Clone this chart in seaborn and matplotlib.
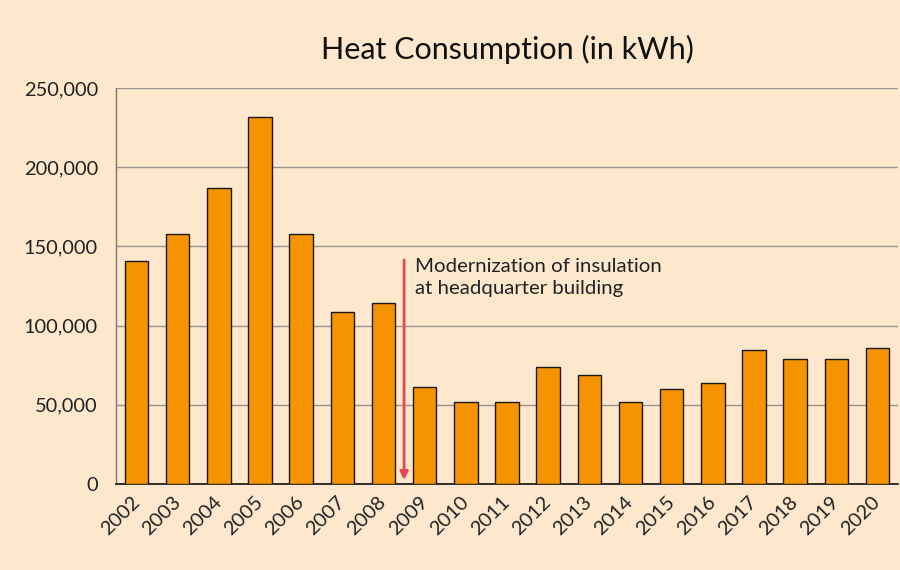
import matplotlib
matplotlib.use("Agg")
import matplotlib.pyplot as plt
import seaborn as sns
import pandas as pd
import numpy as np
from matplotlib.ticker import FuncFormatter, FixedLocator

years = ["2002", "2003", "2004", "2005", "2006", "2007", "2008", "2009", "2010", "2011",
         "2012", "2013", "2014", "2015", "2016", "2017", "2018", "2019", "2020"]
heat_kwh = [141000, 158000, 187000, 232000, 158000, 108500, 114500, 61000, 52000, 52000,
            74000, 69000, 52000, 60000, 64000, 84500, 79000, 79000, 86000]
title_text = "Heat Consumption (in kWh)"
note_text = "Modernization of insulation\nat headquarter building"
y_ticks = [0, 50000, 100000, 150000, 200000, 250000]

BG = "#fde8cd"
BAR = "#f59300"
GRID = "#9a938a"
RED = "#e8484c"

sns.set_theme(style="white")
plt.rcParams["font.family"] = ["Lato", "DejaVu Sans"]

df = pd.DataFrame({"year": years, "kwh": heat_kwh})

fig = plt.figure(figsize=(9, 5.7), dpi=100, facecolor=BG)
ax = fig.add_axes([116/900, 1-484/570, (898-116)/900, (484-88)/570])
ax.set_facecolor(BG)

sns.barplot(data=df, x="year", y="kwh", color=BAR, edgecolor="#1a1a1a",
            linewidth=1.0, width=0.57, saturation=1, ax=ax, zorder=3)

ax.set_ylim(0, 250000)
ax.set_xlim(-0.5, len(years) - 0.5)
ax.set_yticks(y_ticks)
ax.yaxis.set_major_formatter(FuncFormatter(lambda v, p: f"{int(v):,}"))
ax.grid(axis="y", color=GRID, linewidth=1.0, zorder=0)
ax.set_axisbelow(True)
ax.set_xlabel("")
ax.set_ylabel("")

for s in ["top", "right"]:
    ax.spines[s].set_visible(False)
ax.spines["left"].set_color("#7d766c")
ax.spines["left"].set_linewidth(1.0)
ax.spines["bottom"].set_color("#111111")
ax.spines["bottom"].set_linewidth(1.2)

ax.tick_params(axis="y", which="major", length=9, width=1, color="#7d766c",
               labelsize=14.4, labelcolor="#222222", pad=4)
ax.tick_params(axis="x", which="major", length=0, labelsize=14.4,
               labelcolor="#222222", pad=11)
ax.xaxis.set_minor_locator(FixedLocator(np.arange(-0.5, len(years), 1.0)))
ax.tick_params(axis="x", which="minor", length=10, width=1.3, color="#9b9185")
for lbl in ax.get_xticklabels():
    lbl.set_rotation(45)
    lbl.set_ha("right")
    lbl.set_va("center")
    lbl.set_rotation_mode("anchor")

ax.annotate("", xy=(6.5, 2500), xytext=(6.5, 141500),
            arrowprops=dict(arrowstyle="-|>", color=RED, lw=2, mutation_scale=12,
                            shrinkA=0, shrinkB=0), zorder=5)
ax.text(6.76, 142500, note_text, ha="left", va="top", fontsize=14.7,
        color="#222222", linespacing=1.35, zorder=5)

fig.text(507/900, 1-49/570, title_text, ha="center", va="center",
         fontsize=22, color="#111111")

fig.savefig("out.png", dpi=100, facecolor=BG)
